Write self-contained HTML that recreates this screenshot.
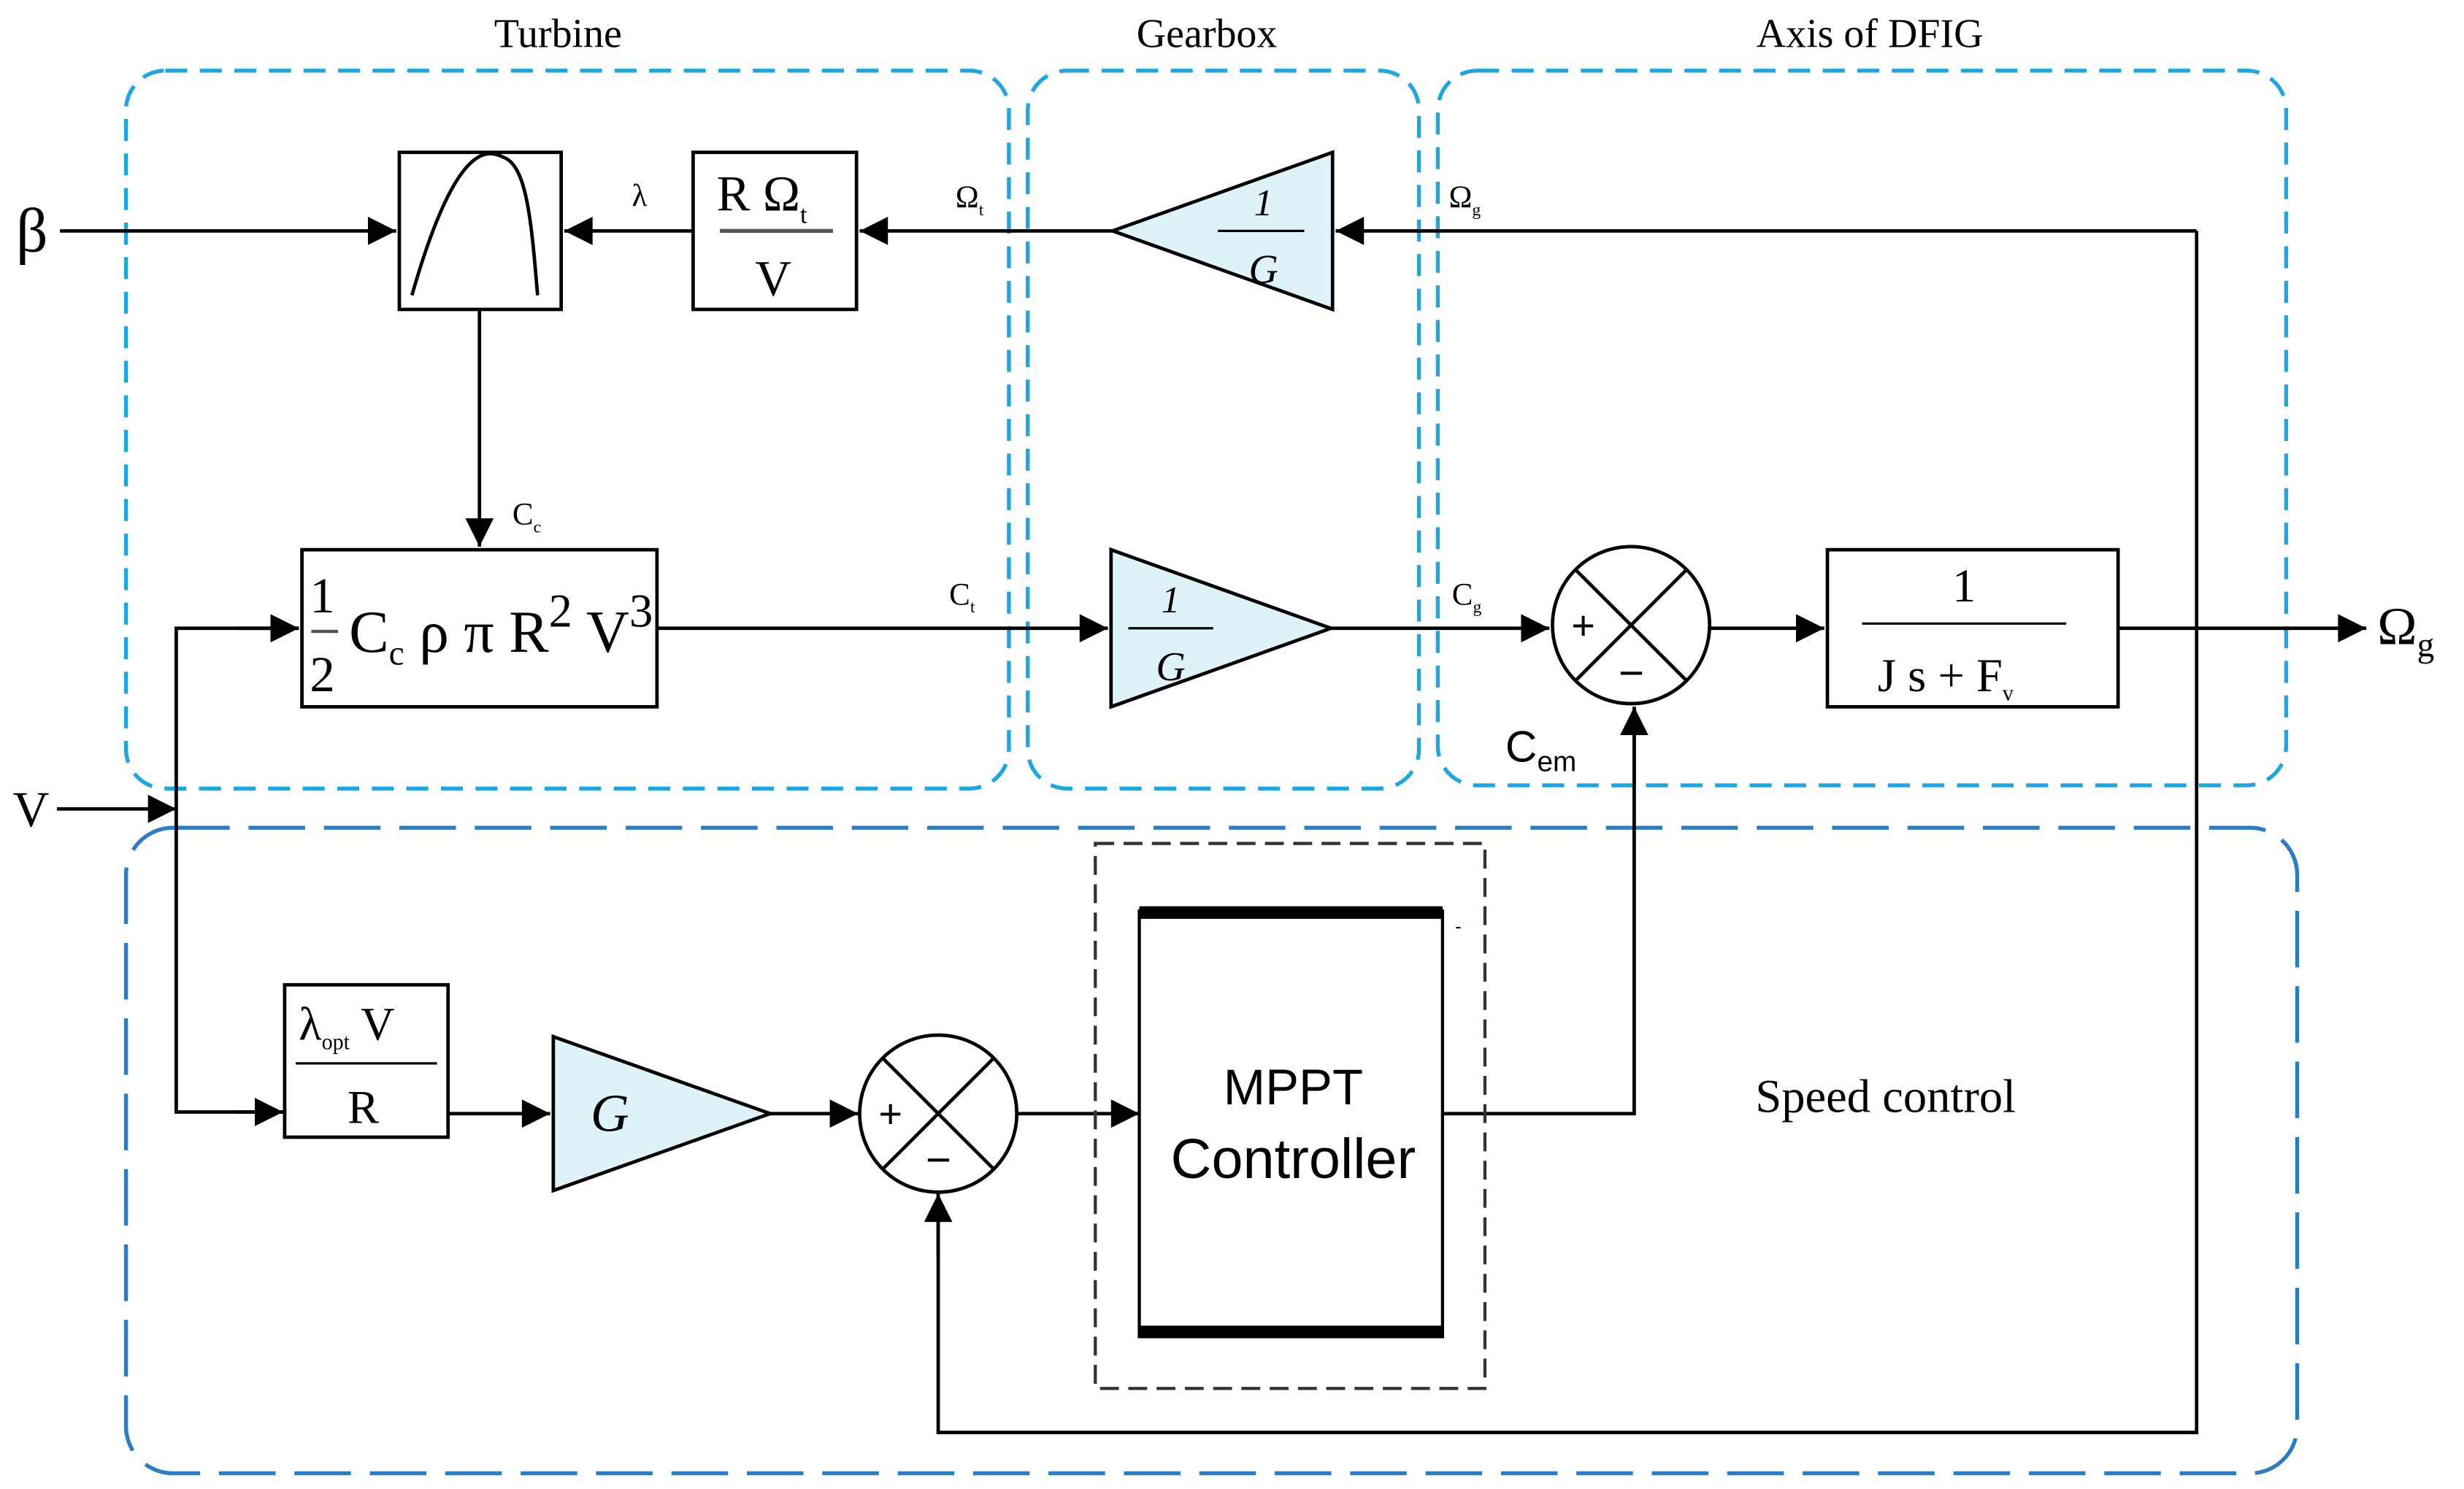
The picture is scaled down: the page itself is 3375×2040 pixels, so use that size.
<!DOCTYPE html>
<html><head><meta charset="utf-8"><style>
html,body{margin:0;padding:0;background:#fff;}
svg{display:block}
.s{font-family:"Liberation Serif",serif;fill:#000}
.a{font-family:"Liberation Sans",sans-serif;fill:#000}
</style></head><body>
<svg width="3375" height="2040" viewBox="0 0 1568 948" xmlns="http://www.w3.org/2000/svg">
<defs>
<marker id="ar" viewBox="0 0 10 10" refX="10" refY="5" markerWidth="22" markerHeight="18" markerUnits="userSpaceOnUse" orient="auto"><path d="M0,0 L10,5 L0,10 z" fill="#000"/></marker>
</defs>
<rect width="1568" height="948" fill="#fff"/>
<g fill="none" stroke="#1ea6e0" stroke-width="2.5" stroke-dasharray="14,8">
<rect x="80" y="45" width="562" height="457" rx="25"/>
<rect x="654" y="45" width="249" height="457" rx="25"/>
<rect x="915" y="45" width="540" height="455" rx="25"/>
</g>
<rect x="80" y="527" width="1382" height="411" rx="30" fill="none" stroke="#2a7cc4" stroke-width="2.5" stroke-dasharray="36,12"/>
<text x="355" y="30" class="s" font-size="26" text-anchor="middle">Turbine</text>
<text x="768" y="30" class="s" font-size="26" text-anchor="middle">Gearbox</text>
<text x="1190" y="30" class="s" font-size="26" text-anchor="middle">Axis of DFIG</text>
<text x="1200" y="708" class="s" font-size="30" text-anchor="middle">Speed control</text>

<g stroke="#000" stroke-width="2.2" fill="none">
<line x1="38" y1="147" x2="252" y2="147" marker-end="url(#ar)"/>
<line x1="441" y1="147" x2="359" y2="147" marker-end="url(#ar)"/>
<line x1="708" y1="147" x2="547" y2="147" marker-end="url(#ar)"/>
<polyline points="1398,147 1398,912 597,912 597,760" />
<line x1="597" y1="800" x2="597" y2="760" marker-end="url(#ar)"/>
<line x1="1398" y1="147" x2="850" y2="147" marker-end="url(#ar)"/>
<line x1="305" y1="197" x2="305" y2="348" marker-end="url(#ar)"/>
<line x1="418" y1="400" x2="705" y2="400" marker-end="url(#ar)"/>
<line x1="847" y1="400" x2="986" y2="400" marker-end="url(#ar)"/>
<line x1="1088" y1="400" x2="1161" y2="400" marker-end="url(#ar)"/>
<line x1="1348" y1="400" x2="1506" y2="400" marker-end="url(#ar)"/>
<line x1="36" y1="515" x2="112" y2="515" marker-end="url(#ar)"/>
<polyline points="190,400 112,400 112,708 180,708"/>
<line x1="150" y1="400" x2="190" y2="400" marker-end="url(#ar)"/>
<line x1="150" y1="708" x2="180" y2="708" marker-end="url(#ar)"/>
<line x1="285" y1="709" x2="350" y2="709" marker-end="url(#ar)"/>
<line x1="490" y1="709" x2="546" y2="709" marker-end="url(#ar)"/>
<line x1="647" y1="709" x2="725" y2="709" marker-end="url(#ar)"/>
<polyline points="918,709 1040,709 1040,450"/>
<line x1="1040" y1="500" x2="1040" y2="450" marker-end="url(#ar)"/>
</g>

<g stroke="#000" stroke-width="2.2">
<rect x="254" y="97" width="103" height="100" fill="#fff"/>
<path d="M262,188 C290,90 310,95 320,100 C335,105 338,140 342,188" fill="none"/>
<rect x="441" y="97" width="104" height="100" fill="#fff"/>
<line x1="458" y1="147" x2="530" y2="147" stroke="#555" stroke-width="2.5"/>
<polygon points="708,147 848,97 848,197" fill="#def3f8"/>
<line x1="775" y1="147" x2="830" y2="147" stroke-width="1.5"/>
<rect x="192" y="350" width="226" height="100" fill="#fff"/>
<line x1="198" y1="402" x2="215" y2="402" stroke="#555" stroke-width="2"/>
<polygon points="707,350 847,400 707,450" fill="#def3f8"/>
<line x1="718" y1="400" x2="772" y2="400" stroke-width="1.5"/>
<circle cx="1038" cy="398" r="50" fill="#fff"/>
<line x1="1003" y1="363" x2="1073" y2="433"/><line x1="1073" y1="363" x2="1003" y2="433"/>
<rect x="1163" y="350" width="185" height="100" fill="#fff"/>
<line x1="1185" y1="397" x2="1315" y2="397" stroke-width="1.5"/>
<rect x="181" y="627" width="104" height="97" fill="#fff"/>
<line x1="188" y1="677" x2="278" y2="677" stroke-width="1.5"/>
<polygon points="352,660 490,709 352,758" fill="#def3f8"/>
<circle cx="597" cy="709" r="50" fill="#fff"/>
<line x1="562" y1="674" x2="632" y2="744"/><line x1="632" y1="674" x2="562" y2="744"/>
</g>
<rect x="697" y="537" width="248" height="347" fill="none" stroke="#333" stroke-width="2" stroke-dasharray="12,6"/>
<rect x="725" y="580" width="193" height="271" fill="#fff" stroke="#000" stroke-width="2"/>
<rect x="725" y="577" width="193" height="8" fill="#000"/>
<rect x="725" y="844" width="193" height="8" fill="#000"/>
<text x="823" y="703" class="a" font-size="32" text-anchor="middle">MPPT</text>
<text x="823" y="750" class="a" font-size="36" text-anchor="middle">Controller</text>

<text x="10" y="160" class="s" font-size="40">β</text>
<text x="402" y="131" class="s" font-size="20">λ</text>
<text x="456" y="134" class="s" font-size="32">R Ω<tspan font-size="16" dy="8">t</tspan></text>
<text x="492" y="188" class="s" font-size="32" text-anchor="middle">V</text>
<text x="608" y="132" class="s" font-size="20">Ω<tspan font-size="11" dy="5">t</tspan></text>
<text x="804" y="137" class="s" font-size="24" text-anchor="middle" font-style="italic">1</text>
<text x="804" y="180" class="s" font-size="26" text-anchor="middle" font-style="italic">G</text>
<text x="922" y="132" class="s" font-size="20">Ω<tspan font-size="11" dy="5">g</tspan></text>
<text x="326" y="334" class="s" font-size="20">C<tspan font-size="11" dy="5">c</tspan></text>
<text x="205" y="390" class="s" font-size="32" text-anchor="middle">1</text>
<text x="205" y="440" class="s" font-size="32" text-anchor="middle">2</text>
<text x="222" y="415" class="s" font-size="38">C<tspan font-size="22" dy="8">c</tspan><tspan dy="-8"> ρ π R</tspan><tspan font-size="30" dy="-16">2</tspan><tspan dy="16"> V</tspan><tspan font-size="30" dy="-16">3</tspan></text>
<text x="604" y="385" class="s" font-size="20">C<tspan font-size="11" dy="5">t</tspan></text>
<text x="745" y="390" class="s" font-size="24" text-anchor="middle" font-style="italic">1</text>
<text x="745" y="433" class="s" font-size="26" text-anchor="middle" font-style="italic">G</text>
<text x="924" y="385" class="s" font-size="20">C<tspan font-size="11" dy="5">g</tspan></text>
<text x="1000" y="407" class="a" font-size="26">+</text>
<text x="1030" y="438" class="a" font-size="28">−</text>
<text x="958" y="485" class="a" font-size="28">C<tspan font-size="18" dy="6">em</tspan></text>
<text x="1250" y="383" class="s" font-size="30" text-anchor="middle">1</text>
<text x="1195" y="440" class="s" font-size="30">J s + F<tspan font-size="14" dy="6">v</tspan></text>
<text x="1513" y="410" class="s" font-size="34">Ω<tspan font-size="22" dy="8">g</tspan></text>
<text x="8" y="526" class="s" font-size="32">V</text>
<text x="190" y="662" class="s" font-size="30">λ<tspan font-size="14" dy="6">opt</tspan><tspan dy="-6"> V</tspan></text>
<text x="231" y="715" class="s" font-size="30" text-anchor="middle">R</text>
<text x="388" y="720" class="s" font-size="34" text-anchor="middle" font-style="italic">G</text>
<text x="559" y="718" class="a" font-size="26">+</text>
<text x="589" y="748" class="a" font-size="28">−</text>
<text x="926" y="594" class="a" font-size="12">-</text>
</svg>
</body></html>
